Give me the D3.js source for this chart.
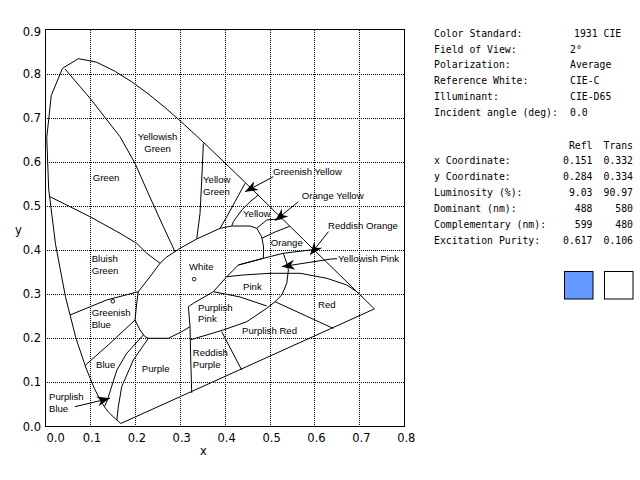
<!DOCTYPE html>
<html>
<head>
    <title>CIE 1931 Chromaticity</title>
    <script src="https://cdnjs.cloudflare.com/ajax/libs/d3/7.8.5/d3.min.js"></script>
    <style>
        body { margin: 0; background: #fff; }
        .grid line { stroke: #000; stroke-width: 1px; stroke-dasharray: 1,1; shape-rendering: crispEdges; }
        .frame { fill: none; stroke: #000; stroke-width: 1px; shape-rendering: crispEdges; }
        .bound { fill: none; stroke: #000; stroke-width: 1px; }
        .tick { font-family: "DejaVu Sans", sans-serif; font-size: 11.5px; }
        .region { font-family: "Liberation Sans", Arial, sans-serif; font-size: 9.6px; }
        .info { font-family: "DejaVu Sans Mono", monospace; font-size: 9.8px; }
    </style>
</head>
<body>
<div id="chart"></div>
<script>
// spectral locus, CIE 1931 2 deg (x, y), 430 nm -> 680 nm
const locus = [
    [0.1689, 0.0069], [0.1644, 0.0109], [0.1566, 0.0177], [0.1440, 0.0297],
    [0.1355, 0.0399], [0.1241, 0.0578], [0.1096, 0.0868], [0.0913, 0.1327],
    [0.0687, 0.2007], [0.0454, 0.2950], [0.0235, 0.4127], [0.0082, 0.5384],
    [0.0039, 0.6548], [0.0139, 0.7502], [0.0389, 0.8120], [0.0743, 0.8338],
    [0.1142, 0.8262], [0.1547, 0.8059], [0.1929, 0.7816], [0.2296, 0.7543],
    [0.2658, 0.7243], [0.3016, 0.6923], [0.3373, 0.6589], [0.3731, 0.6245],
    [0.4087, 0.5896], [0.4441, 0.5547], [0.4788, 0.5202], [0.5125, 0.4866],
    [0.5448, 0.4544], [0.5752, 0.4242], [0.6029, 0.3965], [0.6270, 0.3725],
    [0.6658, 0.3340], [0.6915, 0.3083], [0.7079, 0.2920], [0.7190, 0.2809],
    [0.7260, 0.2740], [0.7300, 0.2700], [0.7334, 0.2666]
];

// region boundaries
const whiteArea = [
    [0.2895, 0.3963], [0.3007, 0.4040], [0.3379, 0.4251], [0.3898, 0.4493],
    [0.4158, 0.4545], [0.4566, 0.4545], [0.4715, 0.4493], [0.4826, 0.4296],
    [0.4866, 0.4069], [0.4862, 0.3813], [0.4305, 0.3661], [0.4047, 0.3396],
    [0.3748, 0.3056], [0.3303, 0.2793], [0.3192, 0.2716], [0.3229, 0.2263],
    [0.3045, 0.2149], [0.2746, 0.2000], [0.2301, 0.2000], [0.2227, 0.2036],
    [0.2116, 0.2188], [0.2004, 0.2414], [0.2042, 0.2793], [0.2078, 0.3056],
    [0.2339, 0.3396], [0.2561, 0.3700], [0.2710, 0.3843], [0.2895, 0.3963]
];
const greenYellowishGreen = [[0.0445, 0.8105], [0.1002, 0.7441], [0.1670, 0.6570], [0.2004, 0.5967],
    [0.2265, 0.5362], [0.2635, 0.4530], [0.2895, 0.3963]];
const greenBluishGreen = [[0.0111, 0.5210], [0.0557, 0.4983], [0.1002, 0.4756], [0.1670, 0.4380],
    [0.2042, 0.4153], [0.2265, 0.3927], [0.2561, 0.3700]];
const yellowishGreenYellowGreen = [[0.3526, 0.6420], [0.3490, 0.5588], [0.3452, 0.4833], [0.3379, 0.4251]];
const yellowGreenGreenishYellow = [[0.4454, 0.5513], [0.4232, 0.5096], [0.4047, 0.4756], [0.3898, 0.4493]];
const greenishYellowYellow = [[0.4751, 0.5248], [0.4566, 0.5096], [0.4381, 0.4908], [0.4194, 0.4643], [0.4158, 0.4545]];
const yellowOrangeYellow = [[0.4715, 0.4493], [0.4938, 0.4682], [0.5280, 0.4710]];
const orangeYellowOrange = [[0.4826, 0.4267], [0.5122, 0.4409], [0.5450, 0.4540]];
const orangeLower = [[0.4305, 0.3661], [0.4862, 0.3813], [0.5307, 0.3927], [0.5980, 0.4010]];
const pinkUpper = [[0.4047, 0.3396], [0.4416, 0.3435], [0.5011, 0.3473], [0.5679, 0.3473],
    [0.6274, 0.3360], [0.6719, 0.3208], [0.6942, 0.3056], [0.7053, 0.2943]];
const saturationCurve = [[0.5307, 0.3927], [0.5345, 0.3813], [0.5383, 0.3700], [0.5419, 0.3548],
    [0.5383, 0.3246], [0.5272, 0.2981], [0.5122, 0.2829], [0.4938, 0.2680],
    [0.4492, 0.2376], [0.3971, 0.2188], [0.3252, 0.1970]];
const pinkPurplishPink = [[0.3748, 0.3056], [0.4343, 0.2936], [0.4938, 0.2732]];
const redPurplishRed = [[0.5122, 0.2829], [0.6421, 0.2223]];
const purplishRedReddishPurple = [[0.3935, 0.2149], [0.4380, 0.1280]];
const reddishPurplePurple = [[0.3229, 0.2263], [0.3245, 0.1508], [0.3267, 0.0759]];
const bluishGreenGreenishBlue = [[0.0557, 0.2528], [0.1374, 0.2868], [0.2078, 0.3056]];
const greenishBlueBlue = [[0.0900, 0.1390], [0.1448, 0.1886], [0.2004, 0.2414]];
const bluePurplishBlue = [[0.2189, 0.2074], [0.1820, 0.1660], [0.1600, 0.1280], [0.1460, 0.0830],
    [0.1390, 0.0600], [0.1325, 0.0450]];
const purplishBluePurple = [[0.2301, 0.2000], [0.1967, 0.1508], [0.1708, 0.0902], [0.1633, 0.0449], [0.1600, 0.0150]];

const boundaries = [whiteArea, greenYellowishGreen, greenBluishGreen, yellowishGreenYellowGreen,
    yellowGreenGreenishYellow, greenishYellowYellow, yellowOrangeYellow, orangeYellowOrange,
    orangeLower, pinkUpper, saturationCurve, pinkPurplishPink, redPurplishRed,
    purplishRedReddishPurple, reddishPurplePurple, bluishGreenGreenishBlue, greenishBlueBlue,
    bluePurplishBlue, purplishBluePurple];

// region names: text lines, x, y of the first line, anchor
const regionNames = [
    [["Yellowish", "Green"], 0.2506, 0.657, "middle"],
    [["Green"], 0.1359, 0.564, "middle"],
    [["Yellow", "Green"], 0.3519, 0.5588, "start"],
    [["Greenish Yellow"], 0.5078, 0.5777, "start"],
    [["Orange Yellow"], 0.5717, 0.5232, "start"],
    [["Yellow"], 0.4410, 0.4833, "start"],
    [["Reddish Orange"], 0.6303, 0.4552, "start"],
    [["Orange"], 0.5027, 0.4176, "start"],
    [["Yellowish Pink"], 0.6526, 0.3813, "start"],
    [["Bluish", "Green"], 0.1040, 0.3797, "start"],
    [["White"], 0.3207, 0.3623, "start"],
    [["Pink"], 0.4410, 0.3169, "start"],
    [["Red"], 0.6080, 0.2770, "start"],
    [["Purplish", "Pink"], 0.3408, 0.2702, "start"],
    [["Greenish", "Blue"], 0.1040, 0.2580, "start"],
    [["Purplish Red"], 0.4388, 0.2172, "start"],
    [["Reddish", "Purple"], 0.3290, 0.1673, "start"],
    [["Blue"], 0.1136, 0.1410, "start"],
    [["Purple"], 0.2154, 0.1304, "start"],
    [["Purplish", "Blue"], 0.0089, 0.0676, "start"]
];

// leader arrows, from label towards tip
const arrows = [
    [[0.5085, 0.5663], [0.4454, 0.5323]],
    [[0.5642, 0.5096], [0.5122, 0.4666]],
    [[0.6310, 0.4416], [0.5902, 0.3888]],
    [[0.6503, 0.3805], [0.6350, 0.3794], [0.5272, 0.3623]],
    [[0.0668, 0.0449], [0.1448, 0.0639]]
];

// measured points (Refl, Trans)
const samplePoints = [[0.151, 0.284], [0.332, 0.334]];

const xTicks = [0, 0.1, 0.2, 0.3, 0.4, 0.5, 0.6, 0.7, 0.8];
const yTicks = [0, 0.1, 0.2, 0.3, 0.4, 0.5, 0.6, 0.7, 0.8, 0.9];

const infoLabels = ["Color Standard:", "Field of View:", "Polarization:", "Reference White:", "Illuminant:", "Incident angle (deg):"];
const infoValues = ["1931 CIE", "2\u00b0", "Average", "CIE-C", "CIE-D65", "0.0"];
const columnNames = ["Refl", "Trans"];
const measureLabels = ["x Coordinate:", "y Coordinate:", "Luminosity (%):", "Dominant (nm):", "Complementary (nm):", "Excitation Purity:"];
const reflValues = ["0.151", "0.284", "9.03", "488", "599", "0.617"];
const transValues = ["0.332", "0.334", "90.97", "580", "480", "0.106"];
const swatchColors = ["#6699ff", "#ffffff"];

const svg = d3.select('#chart').append('svg')
    .attr('width', 640).attr('height', 480);

svg.append('defs').append('marker')
    .attr('id', 'head')
    .attr('viewBox', '-13 -5 14 10')
    .attr('refX', 0).attr('refY', 0)
    .attr('markerWidth', 14).attr('markerHeight', 10)
    .attr('markerUnits', 'userSpaceOnUse')
    .attr('orient', 'auto')
    .append('path')
    .attr('d', 'M0,0 L-13,-5 L-9,0 L-13,5 Z')
    .attr('fill', '#000');

const x = d3.scaleLinear().domain([0, 0.8]).range([45, 404.3]);
const y = d3.scaleLinear().domain([0, 0.9]).range([426.5, 29.5]);
const fmt = d3.format('.1f');

// dotted grid
const grid = svg.append('g').attr('class', 'grid');
grid.selectAll('.gx').data(xTicks.slice(1, -1)).join('line')
    .attr('x1', d => Math.round(x(d)) + 0.5).attr('x2', d => Math.round(x(d)) + 0.5)
    .attr('y1', y(0.9)).attr('y2', y(0));
grid.selectAll('.gy').data(yTicks.slice(1, -1)).join('line')
    .attr('y1', d => Math.round(y(d)) + 0.5).attr('y2', d => Math.round(y(d)) + 0.5)
    .attr('x1', x(0)).attr('x2', x(0.8));

svg.append('rect').attr('class', 'frame')
    .attr('x', x(0)).attr('y', y(0.9))
    .attr('width', x(0.8) - x(0)).attr('height', y(0) - y(0.9));

// tick labels
svg.append('g').selectAll('text').data(xTicks).join('text')
    .attr('class', 'tick')
    .attr('x', d => d === 0 ? x(d) + 1.5 : x(d) + 2)
    .attr('y', 437.5).attr('dy', '0.35em')
    .attr('text-anchor', d => d === 0 ? 'start' : 'middle')
    .text(fmt);
svg.append('g').selectAll('text').data(yTicks).join('text')
    .attr('class', 'tick')
    .attr('x', 41)
    .attr('y', d => d === 0.9 ? y(d) + 2 : y(d)).attr('dy', '0.35em')
    .attr('text-anchor', 'end')
    .text(fmt);
svg.append('text').attr('class', 'tick').attr('x', 203.5).attr('y', 451).attr('dy', '0.35em')
    .attr('text-anchor', 'middle').text('x');
svg.append('text').attr('class', 'tick').attr('x', 18.5).attr('y', 230).attr('dy', '0.35em')
    .attr('text-anchor', 'middle').text('y');

const line = d3.line().x(d => x(d[0])).y(d => y(d[1]));

// horseshoe closed by the purple line
svg.append('path').attr('class', 'bound')
    .attr('d', line(locus.concat([locus[0]])));

svg.append('g').selectAll('path').data(boundaries).join('path')
    .attr('class', 'bound')
    .attr('d', line);

svg.append('g').selectAll('path').data(arrows).join('path')
    .attr('class', 'bound')
    .attr('marker-end', 'url(#head)')
    .attr('d', line);

svg.append('g').selectAll('circle').data(samplePoints).join('circle')
    .attr('cx', d => x(d[0])).attr('cy', d => y(d[1])).attr('r', 1.8)
    .attr('fill', '#fff').attr('stroke', '#000').attr('stroke-width', 0.9);

// region names
const names = svg.append('g').selectAll('text').data(regionNames).join('text')
    .attr('class', 'region')
    .attr('text-anchor', d => d[3])
    .attr('x', d => x(d[1]))
    .attr('y', d => y(d[2]));
names.selectAll('tspan').data(d => d[0].map((t, i) => [t, i, d[1]])).join('tspan')
    .attr('x', d => x(d[2]))
    .attr('dy', d => d[1] === 0 ? '0.35em' : '11.7')
    .text(d => d[0]);

// info panel
const info = svg.append('g').attr('class', 'info');
info.selectAll('.il').data(infoLabels).join('text')
    .attr('x', 434).attr('y', (d, i) => 33.3 + i * 15.8).attr('dy', '0.35em').text(d => d);
info.selectAll('.iv').data(infoValues).join('text')
    .attr('x', (d, i) => i === 0 ? 574 : 570).attr('y', (d, i) => 33.3 + i * 15.8).attr('dy', '0.35em').text(d => d);
info.selectAll('.cn').data(columnNames).join('text')
    .attr('x', (d, i) => i === 0 ? 592.5 : 633).attr('y', 145.7).attr('dy', '0.35em')
    .attr('text-anchor', 'end').text(d => d);
info.selectAll('.ml').data(measureLabels).join('text')
    .attr('x', 434).attr('y', (d, i) => 160.7 + i * 15.9).attr('dy', '0.35em').text(d => d);
info.selectAll('.rv').data(reflValues).join('text')
    .attr('x', 592.5).attr('y', (d, i) => 160.7 + i * 15.9).attr('dy', '0.35em')
    .attr('text-anchor', 'end').text(d => d);
info.selectAll('.tv').data(transValues).join('text')
    .attr('x', 633).attr('y', (d, i) => 160.7 + i * 15.9).attr('dy', '0.35em')
    .attr('text-anchor', 'end').text(d => d);

svg.append('g').selectAll('rect').data(swatchColors).join('rect')
    .attr('x', (d, i) => 564.5 + i * 40).attr('y', 271.5)
    .attr('width', 28.5).attr('height', 27.5)
    .attr('fill', d => d).attr('stroke', '#000').attr('stroke-width', 1);
</script>
</body>
</html>
